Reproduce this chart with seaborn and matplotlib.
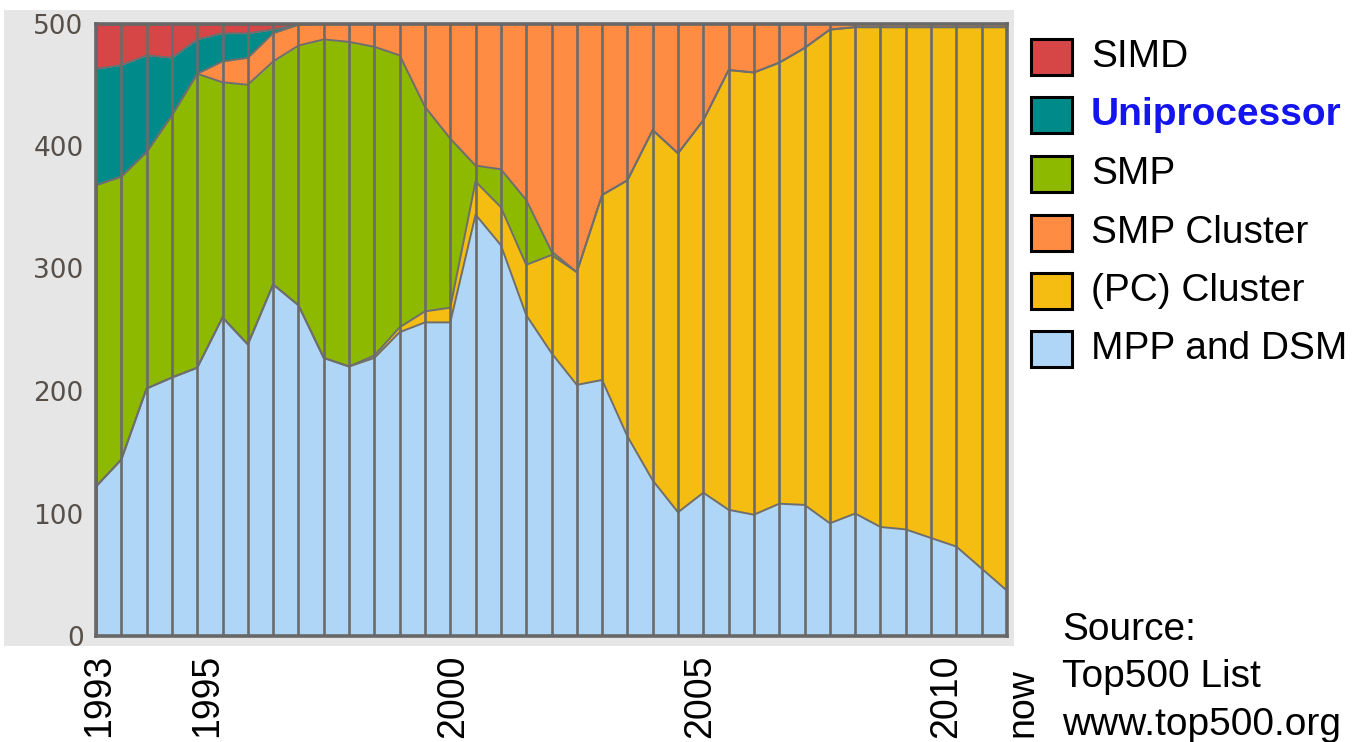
import matplotlib
matplotlib.use("Agg")
import matplotlib.pyplot as plt
from matplotlib.patches import Rectangle
from matplotlib.transforms import ScaledTranslation
import numpy as np
import pandas as pd
import seaborn as sns

# TOP500 lists, twice a year, June 1993 .. June 2011 (index of the list)
lists = np.arange(37)

mpp = [122, 144, 202, 211, 219, 260, 238, 287, 270, 227, 220, 227, 248, 256, 256, 344, 319, 262, 231,
       205, 209, 163, 127, 101, 117, 103, 99, 108, 107, 92, 100, 89, 87, 80, 73, 55, 37]
cluster = [0, 0, 0, 0, 0, 0, 0, 0, 0, 0, 0, 2, 4, 9, 12, 27, 31, 41, 80,
           92, 151, 209, 286, 293, 304, 359, 361, 360, 373, 403, 397, 408, 410, 417, 424, 442, 460]
smp = [246, 231, 193, 214, 240, 192, 212, 182, 212, 260, 265, 252, 222, 167, 138, 13, 31, 53, 3,
       0, 0, 0, 0, 0, 0, 0, 0, 0, 0, 0, 0, 0, 0, 0, 0, 0, 0]
smp_cluster = [0, 0, 0, 0, 0, 17, 22, 23, 17, 13, 15, 19, 26, 68, 94, 116, 119, 144, 186,
               203, 140, 128, 87, 106, 79, 38, 40, 32, 20, 5, 3, 3, 3, 3, 3, 3, 3]
uniprocessor = [95, 91, 79, 47, 28, 23, 20, 3, 0, 0, 0, 0, 0, 0, 0, 0, 0, 0, 0,
                0, 0, 0, 0, 0, 0, 0, 0, 0, 0, 0, 0, 0, 0, 0, 0, 0, 0]
simd = [37, 34, 26, 28, 13, 8, 8, 5, 1, 0, 0, 0, 0, 0, 0, 0, 0, 0, 0,
        0, 0, 0, 0, 0, 0, 0, 0, 0, 0, 0, 0, 0, 0, 0, 0, 0, 0]

year_labels = ["1993", "1995", "2000", "2005", "2010", "now"]
year_pos = [0.12, 4.4, 14.12, 23.88, 33.6, 36]

stack_names = ["MPP and DSM", "(PC) Cluster", "SMP", "SMP Cluster", "Uniprocessor", "SIMD"]
stack_colors = ["#afd6f6", "#f5bd11", "#8db900", "#ff8c42", "#008b8b", "#d74646"]
legend_order = ["SIMD", "Uniprocessor", "SMP", "SMP Cluster", "(PC) Cluster", "MPP and DSM"]

sns.set_style("white")
plt.rcParams["font.family"] = ["Liberation Sans", "DejaVu Sans"]

W, H = 1362, 742
fig = plt.figure(figsize=(W / 100, H / 100), dpi=100)
fig.patch.set_facecolor("white")

# grey panel behind the chart
fig.patches.append(Rectangle((4 / W, 1 - 646 / H), 1010 / W, 636 / H, transform=fig.transFigure,
                             facecolor="#e6e6e6", edgecolor="none", zorder=-10))

ax = fig.add_axes([96 / W, 1 - 636 / H, 911 / W, 612.5 / H])

series = [mpp, cluster, smp, smp_cluster, uniprocessor, simd]
ax.stackplot(lists, *series, colors=stack_colors, linewidth=0, zorder=1)

# outlines between the layers
tops = np.cumsum(np.array(series), axis=0)[:-1]
bounds = pd.DataFrame({
    "list": np.tile(lists, len(tops)),
    "top": tops.ravel(),
    "edge": np.repeat(np.arange(len(tops)), len(lists)),
})
sns.lineplot(data=bounds, x="list", y="top", units="edge", estimator=None,
             color="#6e6e6e", lw=1.4, ax=ax, zorder=2, legend=False)

ax.vlines(lists, 0, 500, colors="#6b6b6b", lw=1.9, zorder=3)

ax.set_xlabel("")
ax.set_ylabel("")
for s in ax.spines.values():
    s.set_visible(True)
    s.set_color("#676767")
    s.set_linewidth(2.6)
    s.set_zorder(4)

ax.set_yticks([0, 100, 200, 300, 400, 500])
ax.set_yticklabels(["0", "100", "200", "300", "400", "500"], family="DejaVu Sans",
                   fontsize=19, color="#57504a")
ax.set_xticks(year_pos)
ax.set_xticklabels(year_labels, rotation=90, fontsize=27, color="black")
ax.tick_params(axis="y", length=0, pad=9)
ax.tick_params(axis="x", length=0, pad=13)
ax.set_xlim(0, 36)
ax.set_ylim(0, 500)

# "now" sits just past the right edge of the plot, a bit lower
now_lbl = ax.get_xticklabels()[-1]
now_lbl.set_transform(now_lbl.get_transform() + ScaledTranslation(0.15, -0.14, fig.dpi_scale_trans))

# legend on the right
rows_y = [57, 115, 174, 233, 291, 349]
name_to_color = dict(zip(stack_names, stack_colors))
for name, yc in zip(legend_order, rows_y):
    fig.patches.append(Rectangle((1031 / W, 1 - (yc + 18) / H), 41 / W, 36 / H, transform=fig.transFigure,
                                 facecolor=name_to_color[name], edgecolor="black", lw=2.2))
    if name == "Uniprocessor":
        fig.text(1091 / W, 1 - yc / H, name, fontsize=28, fontweight="bold", color="#1414ee",
                 va="center", ha="left")
    else:
        fig.text(1091 / W, 1 - yc / H, name, fontsize=28, color="black", va="center", ha="left")

for line, base in zip(["Source:", "Top500 List", "www.top500.org"], [640, 687, 735]):
    fig.text(1062 / W, 1 - base / H, line, fontsize=28, color="black", va="baseline", ha="left")

fig.savefig("out.png", dpi=100)
